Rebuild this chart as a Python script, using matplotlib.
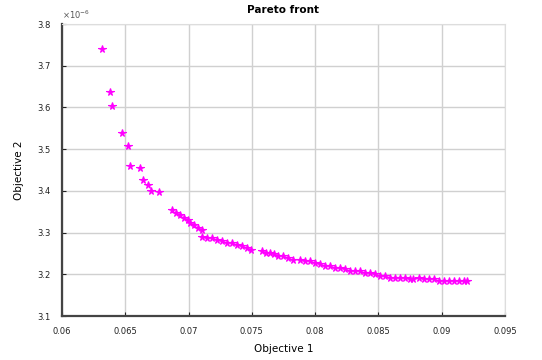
import numpy as np
import matplotlib as mpl
mpl.use('Agg')
import matplotlib.pyplot as plt

# ==== pareto front points ====
obj1 = [0.06314, 0.06379, 0.06397, 0.06472, 0.06519, 0.06537, 0.06618, 0.06637,
        0.06682, 0.06703, 0.06766, 0.06869, 0.06900, 0.06932, 0.06964, 0.06995,
        0.07011, 0.07043, 0.07074, 0.07106, 0.07106, 0.07145, 0.07185, 0.07224,
        0.07264, 0.07303, 0.07343, 0.07382, 0.07422, 0.07461, 0.07493, 0.07580,
        0.07611, 0.07643, 0.07675, 0.07706, 0.07746, 0.07785, 0.07825, 0.07880,
        0.07919, 0.07959, 0.07998, 0.08038, 0.08077, 0.08117, 0.08156, 0.08196,
        0.08235, 0.08275, 0.08314, 0.08354, 0.08393, 0.08433, 0.08472, 0.08512,
        0.08551, 0.08591, 0.08630, 0.08670, 0.08709, 0.08749, 0.08773, 0.08820,
        0.08859, 0.08899, 0.08938, 0.08978, 0.09017, 0.09057, 0.09096, 0.09136,
        0.09175, 0.09199]
obj2 = [3.740, 3.638, 3.604, 3.539, 3.508, 3.460, 3.454, 3.425,
        3.413, 3.400, 3.397, 3.353, 3.348, 3.343, 3.336, 3.331,
        3.322, 3.317, 3.312, 3.307, 3.290, 3.288, 3.286, 3.283,
        3.281, 3.276, 3.274, 3.271, 3.267, 3.264, 3.259, 3.255,
        3.252, 3.250, 3.248, 3.245, 3.243, 3.240, 3.235, 3.235,
        3.233, 3.231, 3.228, 3.224, 3.221, 3.219, 3.216, 3.214,
        3.212, 3.209, 3.209, 3.207, 3.204, 3.202, 3.200, 3.197,
        3.195, 3.192, 3.192, 3.190, 3.190, 3.188, 3.188, 3.190,
        3.188, 3.188, 3.188, 3.185, 3.185, 3.185, 3.185, 3.185,
        3.183, 3.183]

xticks = [0.06, 0.065, 0.07, 0.075, 0.08, 0.085, 0.09, 0.095]
xlabels = ['0.06', '0.065', '0.07', '0.075', '0.08', '0.085', '0.09', '0.095']
yticks = [3.1, 3.2, 3.3, 3.4, 3.5, 3.6, 3.7, 3.8]
ylabels = ['3.1', '3.2', '3.3', '3.4', '3.5', '3.6', '3.7', '3.8']

fig = plt.figure(figsize=(5.42, 3.6), dpi=100)
ax = fig.add_axes([0.1144, 0.1222, 0.8173, 0.8111])

ax.plot(obj1, obj2, linestyle='none', marker='*', color='#ff00ff',
        markersize=5.5, markeredgewidth=0.8)

ax.set_xlim(0.06, 0.095)
ax.set_ylim(3.1, 3.8)
ax.set_xticks(xticks)
ax.set_xticklabels(xlabels)
ax.set_yticks(yticks)
ax.set_yticklabels(ylabels)
ax.tick_params(direction='in', length=3, labelsize=6, colors='#222222', pad=8)
ax.grid(True, color='#d0d0d0', linewidth=1.0)
ax.set_axisbelow(True)

for s in ['top', 'right']:
  ax.spines[s].set_color('#dddddd')
  ax.spines[s].set_linewidth(0.8)
for s in ['left', 'bottom']:
  ax.spines[s].set_color('#444444')
  ax.spines[s].set_linewidth(1.6)

ax.set_title('Pareto front', fontsize=7.5, fontweight='bold', pad=8)
ax.set_xlabel('Objective 1', fontsize=7.5, labelpad=6)
ax.set_ylabel('Objective 2', fontsize=7.5, labelpad=10)
ax.text(0.0, 1.01, r'$\times 10^{-6}$', transform=ax.transAxes,
        fontsize=6, color='#555555', ha='left', va='bottom')

fig.savefig('out.png', dpi=100)
